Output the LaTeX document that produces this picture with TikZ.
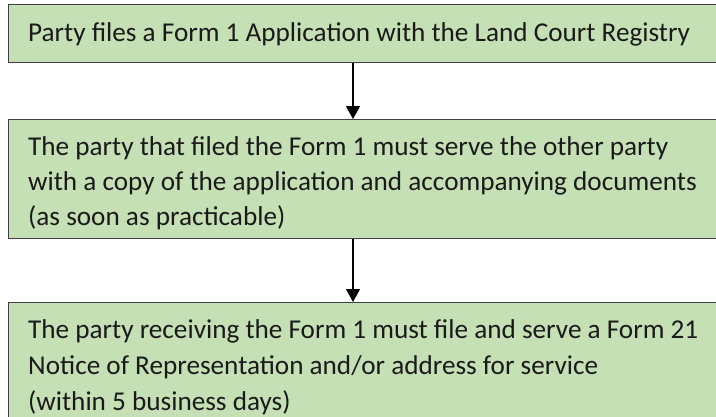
\documentclass[tikz,border=0pt]{standalone}
\usepackage{fontspec}
\setmainfont{Carlito}
\usetikzlibrary{arrows.meta}
\definecolor{boxfill}{HTML}{C5E0B4}
\definecolor{boxline}{HTML}{404040}
\definecolor{inktext}{HTML}{1A1A1A}
\begin{document}
\begin{tikzpicture}[x=1pt,y=-1pt,
  stepbox/.style={draw=boxline, fill=boxfill, line width=1.3pt, inner sep=0pt,
    anchor=north west, minimum width=760pt},
  steptext/.style={anchor=base west, inner sep=0pt, text=inktext,
    font=\fontsize{27.2}{35}\selectfont},
  flow/.style={draw=black, line width=1.2pt, -{Triangle[width=14pt,length=13pt]}}]
\useasboundingbox (0,0) rectangle (716,416);
\clip (0,0) rectangle (716,416);

% the three stages, each running off the right edge
\node[stepbox, minimum height=58pt]  (b1) at (8,4)   {};
\node[stepbox, minimum height=119pt] (b2) at (8,119) {};
\node[stepbox, minimum height=150pt] (b3) at (8,302) {};

% stage texts, one node per line
\node[steptext] (t1)  at (28,41.5) {Party files a Form 1 Application with the Land Court Registry};
\node[steptext] (t2a) at (28,155)  {The party that filed the Form 1 must serve the other party};
\node[steptext] (t2b) at (28,190)  {with a copy of the application and accompanying documents};
\node[steptext] (t2c) at (28,225)  {(as soon as practicable)};
\node[steptext] (t3a) at (28,338)  {The party receiving the Form 1 must file and serve a Form 21};
\node[steptext] (t3b) at (28,374)  {Notice of Representation and/or address for service};
\node[steptext] (t3c) at (28,410.5){(within 5 business days)};

% connectors
\coordinate (ax) at (353,0);
\draw[flow] (b1.south -| ax) -- (b2.north -| ax);
\draw[flow] (b2.south -| ax) -- (b3.north -| ax);
\end{tikzpicture}
\end{document}
